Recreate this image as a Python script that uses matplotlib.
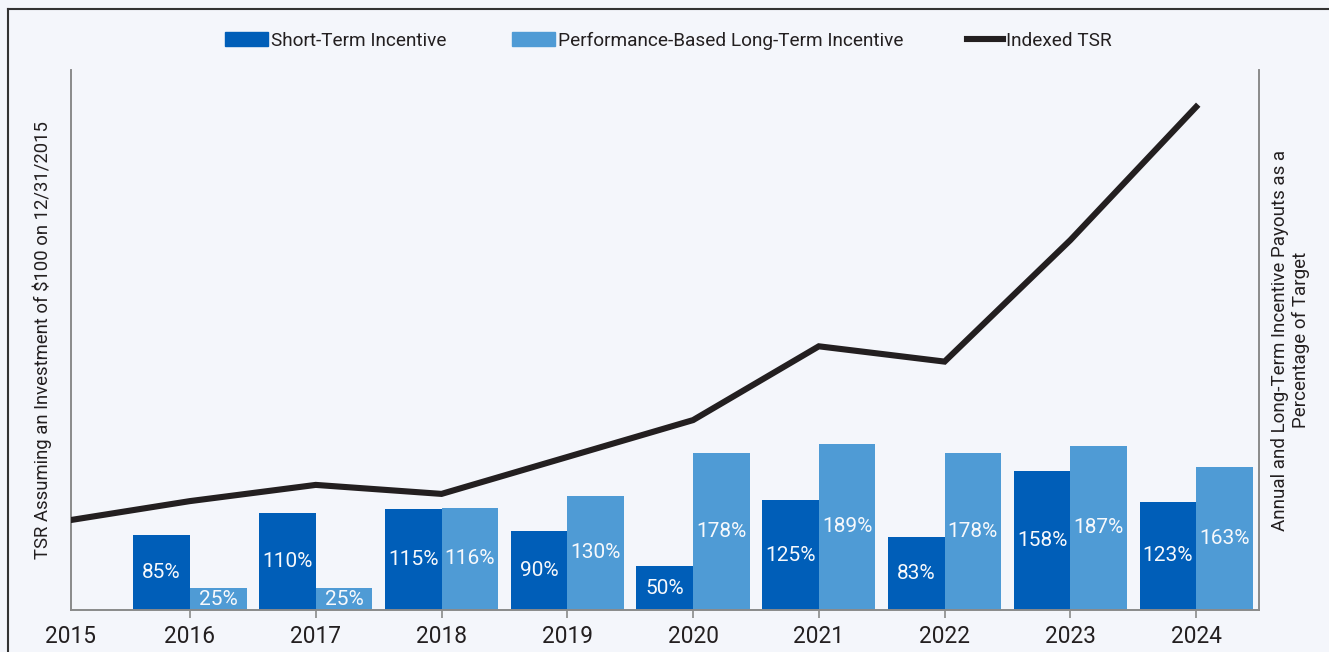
import matplotlib
matplotlib.use("Agg")
import matplotlib.pyplot as plt
import numpy as np
from matplotlib.patches import Patch
from matplotlib.lines import Line2D

years = [2015, 2016, 2017, 2018, 2019, 2020, 2021, 2022, 2023, 2024]
tsr = [100, 121, 139, 129, 170, 211, 293, 276, 411, 559]
bar_years = [2016, 2017, 2018, 2019, 2020, 2021, 2022, 2023, 2024]
sti = [85, 110, 115, 90, 50, 125, 83, 158, 123]
lti = [25, 25, 116, 130, 178, 189, 178, 187, 163]

BG = "#f4f6fb"
STI_C = "#005eb8"
LTI_C = "#4f9bd5"
INK = "#231f20"
plt.rcParams["font.family"] = ["Roboto", "DejaVu Sans"]

W, H = 1329, 652
fig = plt.figure(figsize=(W/100, H/100), dpi=100, facecolor=BG)
ax2 = fig.add_axes([71/W, 1-610/H, (1259-71)/W, 540/H])
ax2.set_facecolor(BG)
ax = ax2.twinx()

X0, X1 = 2015.054, 2024.5
w = 0.45
bx = np.array(bar_years, dtype=float)
b1 = ax2.bar(bx - w/2, sti, width=w, color=STI_C, zorder=2)
b2 = ax2.bar(bx + w/2, lti, width=w, color=LTI_C, zorder=2)
for bars, vals in ((b1, sti), (b2, lti)):
    for r, v in zip(bars, vals):
        ax2.text(r.get_x() + r.get_width()/2, v/2, f"{v}%", ha="center", va="center",
                 color="#f7f9fc", fontsize=15)
ax2.set_ylim(0, 614)
ax2.set_xlim(X0, X1)

# first point of the line sits on the left axis edge
xline = np.maximum(np.array(years, dtype=float), X0)
ax.plot(xline, tsr, color=INK, lw=4.4, solid_joinstyle="miter", zorder=3)
ax.set_ylim(0, 600)

for a in (ax, ax2):
    a.spines["top"].set_visible(False)
    for s in ("left", "right", "bottom"):
        a.spines[s].set_color("#8a8a8a")
        a.spines[s].set_linewidth(1.2)
    a.set_yticks([])
tick_pos = np.maximum(np.array(years, dtype=float), X0)
ax2.set_xticks(tick_pos)
ax2.set_xticklabels([str(y) for y in years], fontsize=16.3, color=INK)
ax2.tick_params(axis="x", length=6, width=1.2, color="#8a8a8a", pad=5)
ax2.xaxis.get_major_ticks()[0].tick1line.set_visible(False)

ax2.set_ylabel("TSR Assuming an Investment of $100 on 12/31/2015", fontsize=13.3, color=INK, labelpad=14)
ax.set_ylabel("Annual and Long-Term Incentive Payouts as a\nPercentage of Target", fontsize=13.5,
              color=INK, labelpad=9, rotation=90)
ax.yaxis.set_label_position("right")

items = [
    (Patch(color=STI_C), "Short-Term Incentive", 225),
    (Patch(color=LTI_C), "Performance-Based Long-Term Incentive", 512),
    (Line2D([], [], color=INK, lw=4.4), "Indexed TSR", 967),
]
hl = [43, 43, 36]
for (h, lab, xp), L in zip(items, hl):
    fs = 13.7
    fig.legend([h], [lab], loc="center left", bbox_to_anchor=(xp/W, 1-41/H), frameon=False,
               fontsize=fs, handlelength=L/(fs*100/72), handleheight=0.75, handletextpad=0.15,
               borderpad=0, borderaxespad=0, labelcolor=INK)

# outer frame (left and top edges visible)
fig.add_artist(Line2D([8/W, 8/W], [0, 1-9/H], transform=fig.transFigure, color="#333333", lw=1.5))
fig.add_artist(Line2D([8/W, 1], [1-9/H, 1-9/H], transform=fig.transFigure, color="#333333", lw=1.5))

fig.savefig("out.png", dpi=100, facecolor=BG)
